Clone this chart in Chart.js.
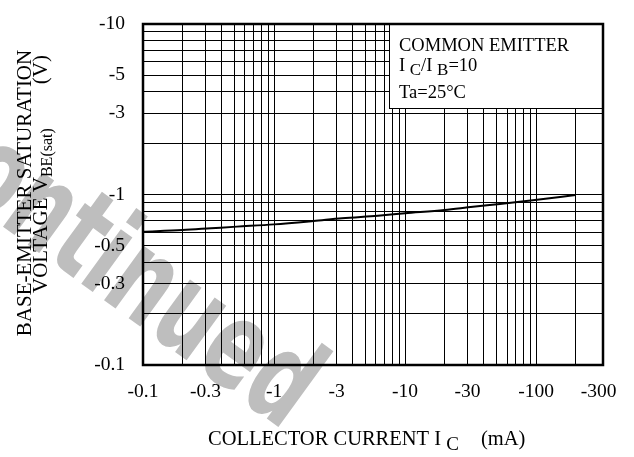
<!DOCTYPE html>
<html>
<head>
<meta charset="utf-8">
<script src="https://cdn.jsdelivr.net/npm/chart.js@4"></script>
<style>
html,body{margin:0;padding:0;background:#fff;}
#wrap{width:634px;height:457px;position:relative;}
</style>
</head>
<body>
<div id="wrap"><canvas id="c" width="634" height="457"></canvas></div>
<script>
// ---- data (shown on axes with a minus sign) ----
const collectorCurrentMA = [0.1, 0.2, 0.33, 0.52, 1.0, 2.0, 3.3, 6.2, 10, 20, 33, 53, 98, 200];
const vbeSatV            = [0.605, 0.619, 0.634, 0.648, 0.668, 0.699, 0.725, 0.751, 0.776, 0.811, 0.848, 0.880, 0.928, 0.993];
const xTickLabels = [0.1, 0.3, 1, 3, 10, 30, 100, 300];
const yTickLabels = [0.1, 0.3, 0.5, 1, 3, 5, 10];
const xDecades = [0.1, 1, 10];
const xGridExtra = [100, 200, 300];
const yDecades = [0.1, 1];
const yGridExtra = [10];
const xRange = [0.1, 324];
const yRange = [0.1, 10];
const legendLines = ['COMMON EMITTER', 'I|C|/I|B|=10', 'Ta=25\u00B0C'];
const watermarkText = 'Discontinued';

function gridValues(decades, extra) {
  const out = [];
  decades.forEach(d => { for (let m = 1; m <= 9; m++) out.push(+(d * m).toPrecision(4)); });
  extra.forEach(v => out.push(v));
  return out;
}
const xGrid = gridValues(xDecades, xGridExtra);
const yGrid = gridValues(yDecades, yGridExtra);
const isLabel = (arr, v) => arr.some(a => Math.abs(a - v) / a < 1e-6);

const SERIF = '"Liberation Serif", "Times New Roman", serif';

function drawRich(ctx, parts, x, y, size, subSize, subDrop) {
  let cx = x;
  parts.forEach(p => {
    ctx.font = (p.sub ? subSize : size) + 'px ' + SERIF;
    ctx.fillText(p.t, cx, y + (p.sub ? subDrop : 0));
    cx += ctx.measureText(p.t).width;
  });
  return cx;
}

const watermark = {
  id: 'watermark',
  beforeDraw(chart) {
    const ctx = chart.ctx;
    ctx.save();
    ctx.fillStyle = '#bebebe';
    ctx.translate(284, 431);
    ctx.rotate(36 * Math.PI / 180);
    ctx.scale(0.74, 1.12);
    ctx.font = 'bold 110px "DejaVu Sans", sans-serif';
    ctx.textAlign = 'right';
    ctx.textBaseline = 'alphabetic';
    ctx.fillText(watermarkText, 0, 0);
    ctx.restore();
  }
};

const overlay = {
  id: 'overlay',
  afterDatasetsDraw(chart) {
    const ctx = chart.ctx;
    const a = chart.chartArea;
    ctx.save();
    // legend box
    const bx = 389, by = a.top, bw = a.right - 389, bh = 108 - a.top;
    ctx.fillStyle = '#fff';
    ctx.fillRect(bx, by, bw, bh);
    ctx.strokeStyle = '#000';
    ctx.lineWidth = 1;
    ctx.strokeRect(bx + 0.5, by + 0.5, bw, bh);
    ctx.fillStyle = '#000';
    ctx.textAlign = 'left';
    ctx.textBaseline = 'alphabetic';
    const ys = [50.5, 71, 97.5];
    legendLines.forEach((line, i) => {
      const segs = line.split('|');
      const parts = segs.map((t, k) => ({ t: t, sub: k % 2 === 1 }));
      parts.forEach((p, k) => { if (!p.sub && k < parts.length - 1) p.t = p.t + ' '; });
      drawRich(ctx, parts, 399, ys[i], 18.5, 17, 4);
    });
    // frame
    ctx.lineWidth = 2.5;
    ctx.strokeRect(a.left, a.top, a.right - a.left, a.bottom - a.top);
    ctx.restore();
  },
  afterDraw(chart) {
    const ctx = chart.ctx;
    ctx.save();
    ctx.fillStyle = '#000';
    ctx.textBaseline = 'alphabetic';
    // x title
    ctx.textAlign = 'left';
    drawRich(ctx, [{ t: 'COLLECTOR CURRENT I ' }, { t: 'C', sub: true }], 208, 445, 20.5, 19, 5);
    drawRich(ctx, [{ t: '(mA)' }], 481, 445, 20.5, 19, 5);
    // y title (rotated)
    ctx.save();
    ctx.translate(30.5, 0);
    ctx.rotate(-Math.PI / 2);
    ctx.font = '21px ' + SERIF;
    ctx.textAlign = 'center';
    ctx.fillText('BASE-EMITTER SATURATION', -193, 0);
    ctx.restore();
    ctx.save();
    ctx.translate(47, 0);
    ctx.rotate(-Math.PI / 2);
    ctx.textAlign = 'left';
    drawRich(ctx, [{ t: 'VOLTAGE V' }, { t: 'BE(sat)', sub: true }], -293, 0, 21, 16, 5);
    ctx.font = '21px ' + SERIF;
    ctx.textAlign = 'right';
    ctx.fillText('(V)', -55, 0);
    ctx.restore();
    ctx.restore();
  }
};

new Chart(document.getElementById('c'), {
  type: 'line',
  data: {
    datasets: [{
      data: collectorCurrentMA.map((v, i) => ({ x: v, y: vbeSatV[i] })),
      borderColor: '#000',
      borderWidth: 2,
      pointRadius: 0,
      fill: false,
      cubicInterpolationMode: 'monotone'
    }]
  },
  options: {
    responsive: false,
    animation: false,
    events: [],
    layout: { padding: { left: 0, top: 24, right: 31, bottom: 0 } },
    plugins: { legend: { display: false }, tooltip: { enabled: false } },
    scales: {
      x: {
        type: 'logarithmic',
        min: xRange[0], max: xRange[1],
        bounds: 'data',
        afterBuildTicks(scale) { scale.ticks = xGrid.map(v => ({ value: v })); },
        afterFit(scale) { scale.height = 92; scale.paddingLeft = 0; scale.paddingRight = 0; },
        grid: {
          drawTicks: false,
          color: c => (c.tick && c.tick.value === 300) ? 'rgba(0,0,0,0)' : '#000',
          lineWidth: 1
        },
        border: { display: false },
        ticks: {
          autoSkip: false, maxRotation: 0, minRotation: 0,
          padding: 15,
          color: '#000',
          font: { family: SERIF, size: 19.5 },
          callback: v => isLabel(xTickLabels, v) ? '-' + v : ''
        }
      },
      y: {
        type: 'logarithmic',
        min: yRange[0], max: yRange[1],
        bounds: 'data',
        afterBuildTicks(scale) { scale.ticks = yGrid.map(v => ({ value: v })); },
        afterFit(scale) { scale.width = 143; scale.paddingTop = 0; scale.paddingBottom = 0; },
        grid: { drawTicks: false, color: '#000', lineWidth: 1 },
        border: { display: false },
        ticks: {
          autoSkip: false,
          padding: 18,
          color: '#000',
          font: { family: SERIF, size: 19.5 },
          callback: v => isLabel(yTickLabels, v) ? '-' + v : ''
        }
      }
    }
  },
  plugins: [watermark, overlay]
});
</script>
</body>
</html>
